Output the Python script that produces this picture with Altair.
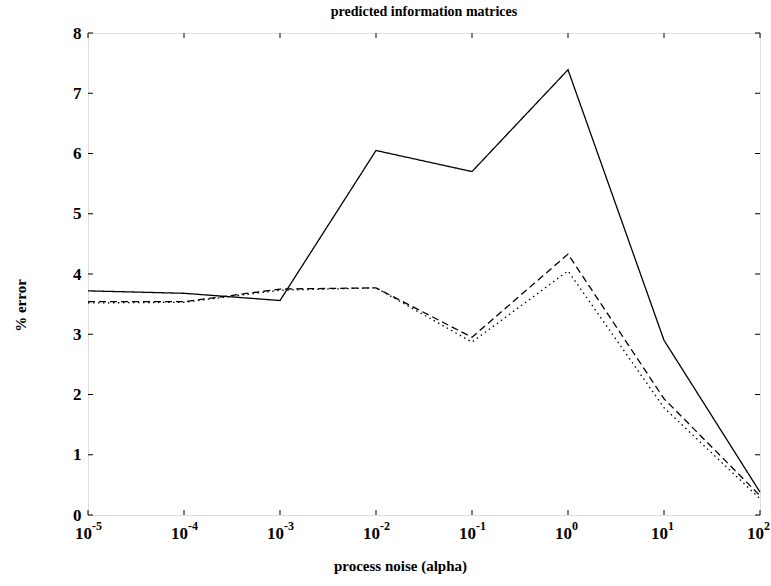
import altair as alt
import pandas as pd

# process noise levels (alpha) and % error for each estimator
alpha = [1e-5, 1e-4, 1e-3, 1e-2, 1e-1, 1e0, 1e1, 1e2]
err_solid = [3.72, 3.68, 3.56, 6.05, 5.70, 7.39, 2.90, 0.38]
err_dashed = [3.54, 3.54, 3.75, 3.77, 2.95, 4.33, 1.93, 0.32]
err_dotted = [3.52, 3.53, 3.73, 3.77, 2.87, 4.05, 1.78, 0.27]

x_ticks = [1e-5, 1e-4, 1e-3, 1e-2, 1e-1, 1e0, 1e1, 1e2]
x_exponents = ["-5", "-4", "-3", "-2", "-1", "0", "1", "2"]
y_ticks = [0, 1, 2, 3, 4, 5, 6, 7, 8]

W, H = 672, 482
FONT = "Liberation Serif"

rows = []
for name, vals in [("solid", err_solid), ("dashed", err_dashed), ("dotted", err_dotted)]:
    for a, v in zip(alpha, vals):
        rows.append({"alpha": a, "err": v, "series": name})
df = pd.DataFrame(rows)

xscale = alt.Scale(type="log", domain=[1e-5, 1e2], nice=False)
yscale = alt.Scale(domain=[0, 8], nice=False)

x_enc = alt.X(
    "alpha:Q", scale=xscale,
    axis=alt.Axis(values=x_ticks, labels=False, ticks=False, grid=False, domain=False,
                  title="process noise (alpha)", titleFont=FONT, titleFontSize=15,
                  titleFontWeight="bold", titleColor="black", titleX=312, titleY=50,
                  titleBaseline="middle"),
)
y_enc = alt.Y(
    "err:Q", scale=yscale,
    axis=alt.Axis(values=y_ticks, format="d", ticks=False, grid=False, domain=False,
                  labelFont=FONT, labelFontSize=17, labelFontWeight="bold",
                  labelColor="black", labelPadding=7, labelFlush=False,
                  title="% error", titleFont=FONT, titleFontSize=15,
                  titleFontWeight="bold", titleColor="black", titleX=-68, titleY=272,
                  titleBaseline="middle"),
)

lines = alt.Chart(df).mark_line(color="black", strokeWidth=1.3).encode(
    x=x_enc,
    y=y_enc,
    strokeDash=alt.StrokeDash(
        "series:N",
        scale=alt.Scale(domain=["solid", "dashed", "dotted"],
                        range=[[1, 0], [7, 4], [1.5, 3.5]]),
        legend=None,
    ),
    detail="series:N",
)

# x tick labels written as 10 with a raised exponent
xt = pd.DataFrame({"alpha": x_ticks, "exp": x_exponents})
base_lbl = alt.Chart(xt).mark_text(
    font=FONT, fontSize=17, fontWeight="bold", color="black",
    align="right", baseline="alphabetic", dx=4,
).encode(x=alt.X("alpha:Q", scale=xscale), y=alt.value(H + 24), text=alt.value("10"))
exp_lbl = alt.Chart(xt).mark_text(
    font=FONT, fontSize=12, fontWeight="bold", color="black",
    align="left", baseline="alphabetic", dx=4,
).encode(x=alt.X("alpha:Q", scale=xscale), y=alt.value(H + 15), text="exp:N")

# inward tick marks on all four sides of the box
yt = pd.DataFrame({"err": y_ticks})
tick_len = 5
bottom_ticks = alt.Chart(xt).mark_rule(color="black", strokeWidth=1).encode(
    x=alt.X("alpha:Q", scale=xscale), y=alt.value(H), y2=alt.value(H - tick_len))
top_ticks = alt.Chart(xt).mark_rule(color="black", strokeWidth=1).encode(
    x=alt.X("alpha:Q", scale=xscale), y=alt.value(0), y2=alt.value(tick_len))
left_ticks = alt.Chart(yt).mark_rule(color="black", strokeWidth=1).encode(
    y=alt.Y("err:Q", scale=yscale), x=alt.value(0), x2=alt.value(tick_len))
right_ticks = alt.Chart(yt).mark_rule(color="black", strokeWidth=1).encode(
    y=alt.Y("err:Q", scale=yscale), x=alt.value(W), x2=alt.value(W - tick_len))

chart = alt.layer(
    lines, base_lbl, exp_lbl, bottom_ticks, top_ticks, left_ticks, right_ticks
).properties(
    width=W, height=H,
    title=alt.TitleParams("predicted information matrices", font=FONT, fontSize=14,
                          fontWeight="bold", color="black", offset=5),
    autosize=alt.AutoSizeParams(type="none"),
    padding={"left": 88, "top": 33, "right": 11, "bottom": 71},
).configure_view(stroke="black", strokeWidth=1.3).configure(background="white")

chart.save("out.html", embed_options={"renderer": "svg", "actions": False})
